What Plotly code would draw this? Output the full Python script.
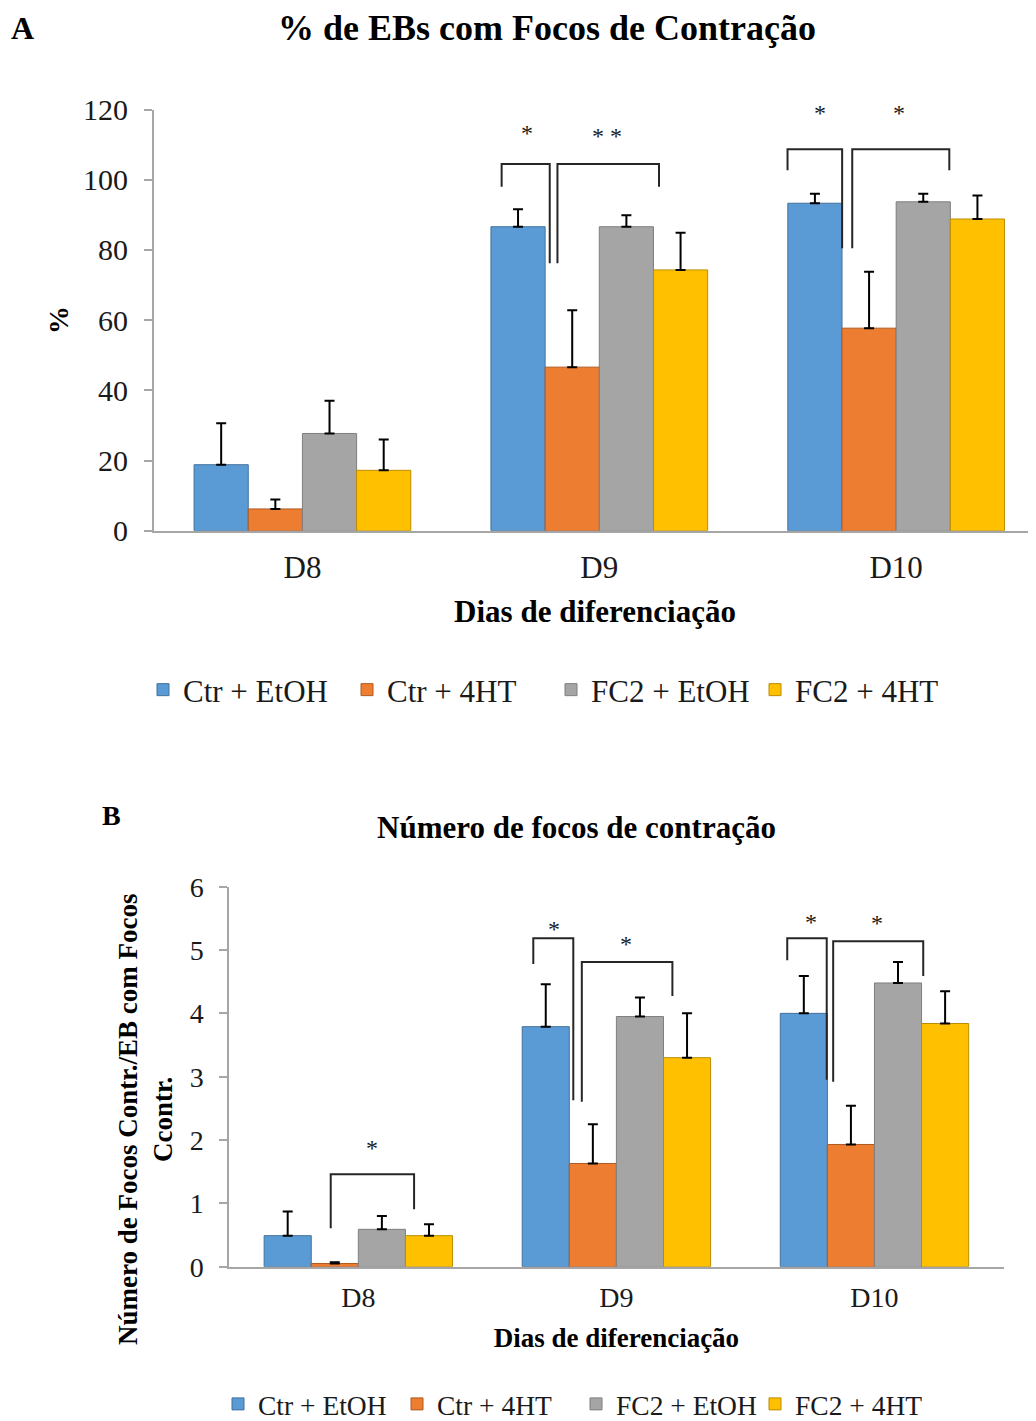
import plotly.graph_objects as go

# ---------------- data ----------------
days = ["D8", "D9", "D10"]
groups = ["Ctr + EtOH", "Ctr + 4HT", "FC2 + EtOH", "FC2 + 4HT"]
colors = ["#5B9BD5", "#ED7D31", "#A5A5A5", "#FFC000"]
edge_colors = ["#41719C", "#AE5A21", "#7F7F7F", "#BC8C00"]

# Panel A: % de EBs com focos de contração
a_ctr_etoh = [18.8, 86.6, 93.3]
a_ctr_4ht = [6.2, 46.6, 57.7]
a_fc2_etoh = [27.7, 86.6, 93.7]
a_fc2_4ht = [17.2, 74.3, 88.8]
a_err_ctr_etoh = [11.8, 5.0, 2.7]
a_err_ctr_4ht = [2.7, 16.2, 16.1]
a_err_fc2_etoh = [9.3, 3.3, 2.3]
a_err_fc2_4ht = [8.8, 10.6, 6.7]

# Panel B: número de focos de contração
b_ctr_etoh = [0.49, 3.79, 4.00]
b_ctr_4ht = [0.05, 1.63, 1.93]
b_fc2_etoh = [0.59, 3.95, 4.48]
b_fc2_4ht = [0.49, 3.30, 3.84]
b_err_ctr_etoh = [0.38, 0.67, 0.59]
b_err_ctr_4ht = [0.02, 0.62, 0.61]
b_err_fc2_etoh = [0.21, 0.30, 0.33]
b_err_fc2_4ht = [0.18, 0.70, 0.51]

# significance brackets: (x_left, x_right, y_top, y_left_end, y_right_end)
a_brackets = [
    (0.671, 0.833, 104.5, 98.0, 76.2),
    (0.859, 1.201, 104.5, 76.2, 98.0),
    (1.634, 1.818, 108.7, 102.7, 80.5),
    (1.852, 2.179, 108.7, 80.5, 102.7),
]
a_stars = [(0.756, 113.3, "*"), (1.025, 112.5, "* *"), (1.742, 119.0, "*"), (2.010, 119.0, "*")]

b_brackets = [
    (-0.107, 0.216, 1.459, 0.606, 0.906),
    (0.678, 0.833, 5.186, 4.78, 2.63),
    (0.866, 1.217, 4.81, 2.605, 4.274),
    (1.662, 1.815, 5.186, 4.84, 2.95),
    (1.840, 2.189, 5.14, 2.92, 4.59),
]
b_stars = [(0.053, 1.87, "*"), (0.758, 5.33, "*"), (1.036, 5.10, "*"), (1.754, 5.44, "*"), (2.011, 5.42, "*")]

a_means = [a_ctr_etoh, a_ctr_4ht, a_fc2_etoh, a_fc2_4ht]
a_errs = [a_err_ctr_etoh, a_err_ctr_4ht, a_err_fc2_etoh, a_err_fc2_4ht]
b_means = [b_ctr_etoh, b_ctr_4ht, b_fc2_etoh, b_fc2_4ht]
b_errs = [b_err_ctr_etoh, b_err_ctr_4ht, b_err_fc2_etoh, b_err_fc2_4ht]

FONT = "Liberation Serif"
TXT = "#1a1a1a"
AX = "#A6A6A6"
# the page body has an 8px margin: the figure is placed at (8, 8) in the window
OFF = 8
W, H = 1036 - OFF, 1421 - OFF
xpos = [0, 1, 2]

def pxx(xp):
    return (xp - OFF) / W

def pxy(yp):
    return 1 - (yp - OFF) / H

fig = go.Figure()

for i, g in enumerate(groups):
    fig.add_trace(go.Bar(
        x=xpos, y=a_means[i], name=g, legend="legend",
        marker=dict(color=colors[i], line=dict(color=edge_colors[i], width=1)),
        error_y=dict(type="data", symmetric=False, array=a_errs[i],
                     arrayminus=[0] * 3, color="#000000", thickness=2, width=5),
        xaxis="x", yaxis="y",
    ))
for i, g in enumerate(groups):
    fig.add_trace(go.Bar(
        x=xpos, y=b_means[i], name=g, legend="legend2",
        marker=dict(color=colors[i], line=dict(color=edge_colors[i], width=1)),
        error_y=dict(type="data", symmetric=False, array=b_errs[i],
                     arrayminus=[0] * 3, color="#000000", thickness=2, width=5),
        xaxis="x2", yaxis="y2",
    ))

shapes = []
def add_brackets(brs, xr, yr):
    for (xl, xr_, yt, yl, yrr) in brs:
        shapes.append(dict(type="path", xref=xr, yref=yr,
                           path=f"M {xl},{yl} L {xl},{yt} L {xr_},{yt} L {xr_},{yrr}",
                           line=dict(color="#262626", width=2)))
add_brackets(a_brackets, "x", "y")
add_brackets(b_brackets, "x2", "y2")

annotations = []
for (x, y, t) in a_stars:
    annotations.append(dict(x=x, y=y, xref="x", yref="y", text=t, showarrow=False,
                            font=dict(family=FONT, size=24, color=TXT), yanchor="middle"))
for (x, y, t) in b_stars:
    annotations.append(dict(x=x, y=y, xref="x2", yref="y2", text=t, showarrow=False,
                            font=dict(family=FONT, size=24, color=TXT), yanchor="middle"))

for (txt, xp, yp, size) in [
    ("A", 22, 28, 32),
    ("% de EBs com Focos de Contração", 547, 28, 36),
    ("B", 111, 816, 28),
    ("Número de focos de contração", 576, 828, 31),
]:
    annotations.append(dict(x=pxx(xp), y=pxy(yp), xref="paper", yref="paper", text=txt, showarrow=False,
                            xanchor="center", yanchor="middle",
                            font=dict(family=FONT, size=size, color="#000000", weight="bold")))

# panel B y-axis title (two lines, placed as in the original)
annotations.append(dict(x=pxx(145), y=pxy(1120), xref="paper", yref="paper",
                        text="Número de Focos Contr./EB com Focos<br>Ccontr.", textangle=-90,
                        showarrow=False, xanchor="center", yanchor="middle",
                        font=dict(family=FONT, size=27, color="#000000", weight="bold")))

def yaxis_common(size):
    return dict(showline=True, linecolor=AX, linewidth=2, ticks="outside", ticklen=8,
                tickcolor=AX, tickwidth=2, showgrid=False, zeroline=False,
                tickfont=dict(family=FONT, size=size, color=TXT))

def xaxis_common(size):
    return dict(showline=True, linecolor=AX, linewidth=2, ticks="", showgrid=False,
                zeroline=False, tickvals=xpos, ticktext=days,
                tickfont=dict(family=FONT, size=size, color=TXT))

fig.update_layout(
    width=W, height=H, margin=dict(l=0, r=0, t=0, b=0, pad=0, autoexpand=False),
    paper_bgcolor="white", plot_bgcolor="white",
    barmode="group", bargap=0.27, bargroupgap=0,
    font=dict(family=FONT, color=TXT),
    xaxis=dict(domain=[pxx(154), 1.0], range=[-0.5, 2.471], anchor="y",
               title=dict(text="Dias de diferenciação", font=dict(family=FONT, size=31, weight="bold", color="#000000"), standoff=16),
               ticklabelstandoff=8, **xaxis_common(31)),
    yaxis=dict(domain=[pxy(530.7), pxy(109.5)], range=[0, 120], dtick=20, anchor="x",
               title=dict(text="%", font=dict(family=FONT, size=28, weight="bold", color="#000000"), standoff=6),
               ticklabelstandoff=10, **yaxis_common(30)),
    xaxis2=dict(domain=[pxx(229.3), pxx(1003.5)], range=[-0.5, 2.5], anchor="y2",
                title=dict(text="Dias de diferenciação", font=dict(family=FONT, size=27, weight="bold", color="#000000"), standoff=16),
                ticklabelstandoff=5, **xaxis_common(28)),
    yaxis2=dict(domain=[pxy(1266.7), pxy(886.7)], range=[0, 6], dtick=1, anchor="x2",
                ticklabelstandoff=10, **yaxis_common(28)),
    legend=dict(orientation="h", x=pxx(143), y=pxy(690), xanchor="left", yanchor="middle",
                font=dict(family=FONT, size=31, color=TXT), entrywidth=159, entrywidthmode="pixels",
                itemwidth=30, traceorder="normal"),
    legend2=dict(orientation="h", x=pxx(218), y=pxy(1404), xanchor="left", yanchor="middle",
                 font=dict(family=FONT, size=27.5, color=TXT), entrywidth=134, entrywidthmode="pixels",
                 itemwidth=30, traceorder="normal"),
    shapes=shapes, annotations=annotations,
    showlegend=True,
)

fig.write_html("out.html")
